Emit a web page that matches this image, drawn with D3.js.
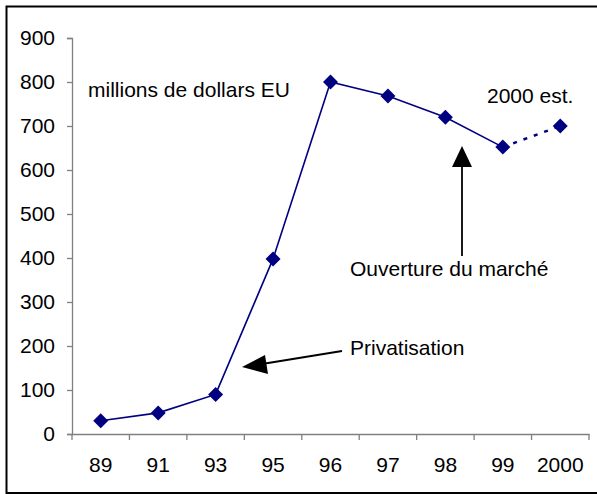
<!DOCTYPE html>
<html><head><meta charset="utf-8">
<script src="https://cdn.jsdelivr.net/npm/d3@7"></script>
<style>body{margin:0;background:#fff}svg{display:block}</style>
</head><body>
<svg id="c" width="597" height="494"></svg>
<script>
const years = ["89","91","93","95","96","97","98","99","2000"];
const values = [30, 48, 90, 398, 800, 768, 720, 652, 700];
const yTicks = [0,100,200,300,400,500,600,700,800,900];
const unitLabel = "millions de dollars EU";
const estLabel = "2000 est.";
const privLabel = "Privatisation";
const openLabel = "Ouverture du marché";

const svg = d3.select("#c");
const font = "Arial, 'Liberation Sans', sans-serif";
const fs = 21;
const color = "#000080";

// frame
svg.append("path").attr("d","M597,6.5 H6.5 V493 H597").attr("fill","none").attr("stroke","#000").attr("stroke-width",2);

const x = d3.scaleBand().domain(years).range([72,589]);
const y = d3.scaleLinear().domain([0,900]).range([434,38]);

const yAxis = svg.append("g").attr("transform","translate(72,0)")
  .call(d3.axisLeft(y).tickValues(yTicks).tickSize(5).tickPadding(12));
const xAxis = svg.append("g").attr("transform","translate(0,434)")
  .call(d3.axisBottom(x).tickSize(0).tickPadding(0));
// x ticks at band boundaries
const bounds = years.map(d=>x(d)).concat([x.range()[1]]);
xAxis.selectAll(".bt").data(bounds).enter().append("line")
  .attr("x1",d=>d).attr("x2",d=>d).attr("y1",0).attr("y2",6);
[yAxis,xAxis].forEach(a=>{
  a.attr("font-size",fs).attr("font-family",font);
  a.selectAll("path.domain").attr("stroke","#808080").attr("stroke-width",1.3);
  a.selectAll("line").attr("stroke","#808080").attr("stroke-width",1.3);
  a.selectAll("text").attr("font-family",font).attr("font-size",fs).attr("fill","#000");
});
xAxis.selectAll(".tick text").attr("y",38).attr("dy",0);

const pts = years.map((d,i)=>({x:x(d)+x.bandwidth()/2, y:y(values[i])}));
const line = d3.line().x(d=>d.x).y(d=>d.y);
svg.append("path").attr("d",line(pts.slice(0,8))).attr("fill","none").attr("stroke",color).attr("stroke-width",1.6);
svg.append("path").attr("d",line(pts.slice(7))).attr("fill","none").attr("stroke",color).attr("stroke-width",2.5).attr("stroke-dasharray","4,7");

svg.selectAll(".m").data(pts).enter().append("path")
  .attr("d","M0,-7.5 L7.5,0 L0,7.5 L-7.5,0 Z")
  .attr("transform",d=>`translate(${d.x},${d.y})`).attr("fill",color);

function txt(t,xx,yy){svg.append("text").attr("x",xx).attr("y",yy).attr("font-family",font).attr("font-size",fs).attr("fill","#000").text(t);}
txt(unitLabel,88,97);
txt(estLabel,487,103);
txt(privLabel,350,355);
txt(openLabel,350,276);

// arrows
svg.append("line").attr("x1",342).attr("y1",351).attr("x2",262).attr("y2",364).attr("stroke","#000").attr("stroke-width",1.8);
svg.append("path").attr("d","M242,367 L265,355 L268,374 Z").attr("fill","#000");
svg.append("line").attr("x1",462).attr("y1",166).attr("x2",462).attr("y2",256).attr("stroke","#000").attr("stroke-width",1.8);
svg.append("path").attr("d","M462,146 L472,167 L452,167 Z").attr("fill","#000");
</script>
</body></html>
